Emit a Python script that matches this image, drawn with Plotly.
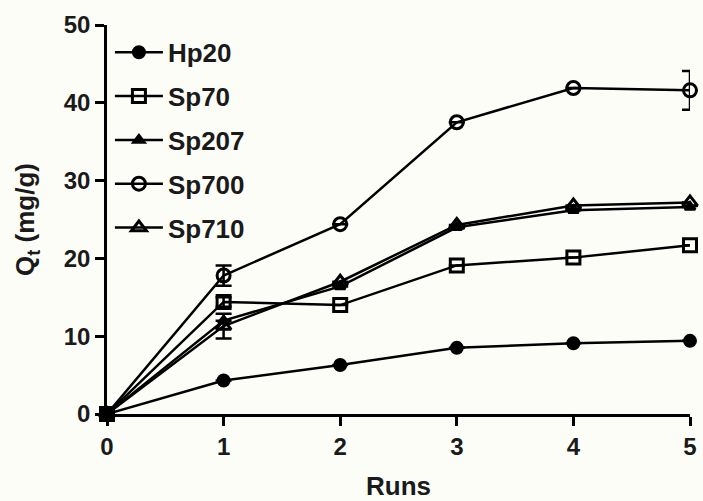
import plotly.graph_objects as go

runs = [0, 1, 2, 3, 4, 5]
names = ["Hp20", "Sp70", "Sp207", "Sp700", "Sp710"]
hp20 = [0, 4.3, 6.3, 8.5, 9.1, 9.4]
sp70 = [0, 14.4, 14.0, 19.1, 20.1, 21.7]
sp207 = [0, 12.0, 16.4, 24.0, 26.2, 26.6]
sp700 = [0, 17.8, 24.4, 37.5, 41.9, 41.6]
sp710 = [0, 11.3, 17.0, 24.3, 26.8, 27.2]
err_hp20 = [0, 0, 0, 0, 0, 0]
err_sp70 = [0, 0.6, 0, 0, 0, 0]
err_sp207 = [0, 0, 0, 0, 0, 0]
err_sp700 = [0, 1.3, 0, 0, 0, 2.5]
err_sp710 = [0, 1.6, 0, 0, 0, 0]

series = [hp20, sp70, sp207, sp700, sp710]
errors = [err_hp20, err_sp70, err_sp207, err_sp700, err_sp710]
symbols = ["circle", "square-open", "triangle-up", "circle-open", "triangle-up-open"]
sizes = [11, 13, 9, 13, 13]

FONT = "Liberation Sans, Arial, sans-serif"
fig = go.Figure()
for i, (nm, ys, er) in enumerate(zip(names, series, errors)):
    fig.add_trace(go.Scatter(
        x=runs, y=ys, name=nm, mode="lines+markers",
        line=dict(color="black", width=2.5),
        marker=dict(symbol=symbols[i], size=sizes[i], color="black",
                    line=dict(color="black", width=3)),
        error_y=dict(type="data", array=er, visible=True, color="black",
                     thickness=2.5, width=8),
        cliponaxis=False, legendgroup=nm,
    ))

fig.update_layout(
    width=703, height=501,
    margin=dict(l=107, r=13, t=25, b=87, autoexpand=False),
    paper_bgcolor="#fdfdf8", plot_bgcolor="#fdfdf8",
    font=dict(family=FONT, size=24, color="#1a1a1a", weight="bold"),
    showlegend=True,
    legend=dict(x=0.005, y=0.99, xanchor="left", yanchor="top",
                bgcolor="rgba(0,0,0,0)", traceorder="grouped",
                tracegroupgap=7, itemwidth=48,
                font=dict(family=FONT, size=26, color="#1a1a1a", weight="bold")),
    xaxis=dict(range=[0, 5], tickvals=runs, showgrid=False, zeroline=False,
               showline=True, linecolor="black", linewidth=2.5, automargin=False,
               ticks="outside", ticklen=9, tickwidth=2.5, tickcolor="black",
               title=dict(text="Runs", standoff=24,
                          font=dict(size=26, family=FONT, weight="bold"))),
    yaxis=dict(range=[0, 50], tickvals=[0, 10, 20, 30, 40, 50], showgrid=False,
               zeroline=False, showline=True, linecolor="black", linewidth=2.5,
               automargin=False,
               ticks="outside", ticklen=9, tickwidth=2.5, tickcolor="black",
               title=dict(text="Q<sub>t</sub> (mg/g)", standoff=22,
                          font=dict(size=26, family=FONT, weight="bold"))),
)
fig.write_html("out.html")
